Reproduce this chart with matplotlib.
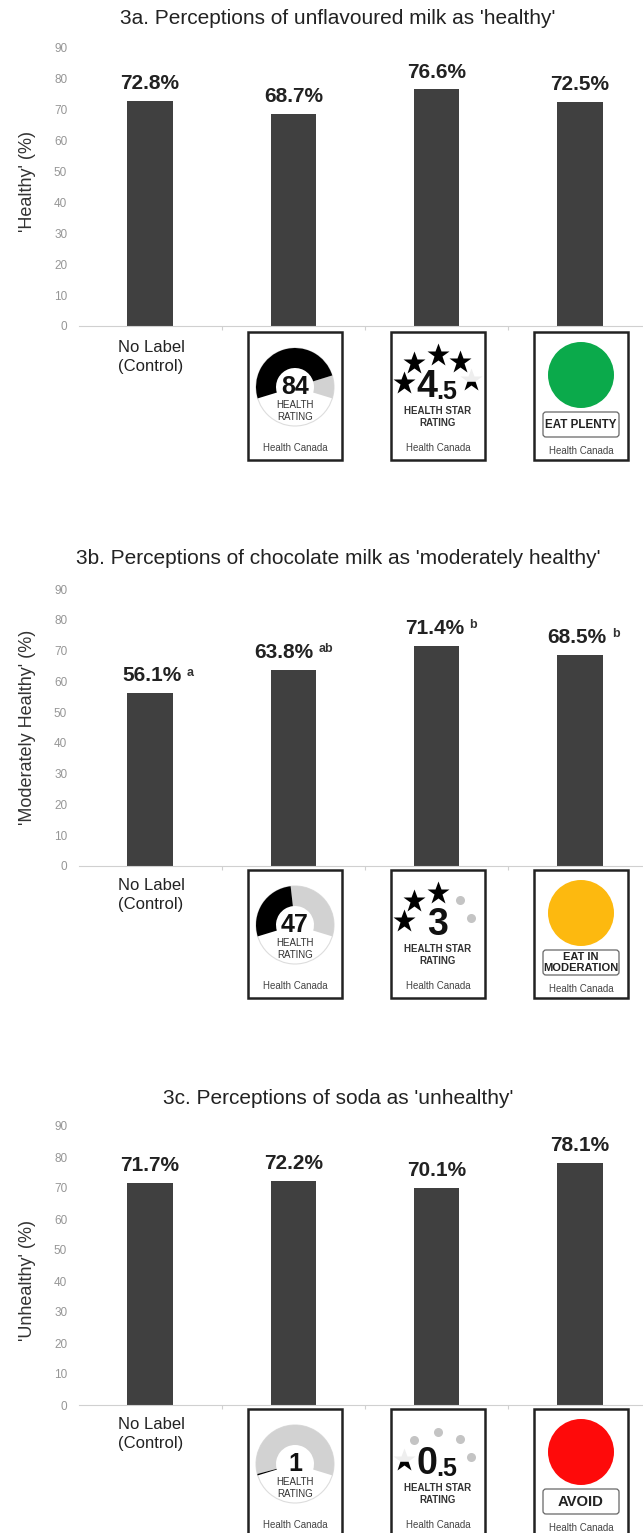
import numpy as np
import matplotlib
matplotlib.use('Agg')
import matplotlib.pyplot as plt
from matplotlib.patches import Wedge, Circle, Rectangle, FancyBboxPatch

plt.rcParams['font.family'] = ['Liberation Sans', 'DejaVu Sans']

W, H = 643, 1533

# ----- Data -----
titles = ["3a. Perceptions of unflavoured milk as 'healthy'",
          "3b. Perceptions of chocolate milk as 'moderately healthy'",
          "3c. Perceptions of soda as 'unhealthy'"]
ylabels = ["'Healthy' (%)", "'Moderately Healthy' (%)", "'Unhealthy' (%)"]
values_a = [72.8, 68.7, 76.6, 72.5]
values_b = [56.1, 63.8, 71.4, 68.5]
values_c = [71.7, 72.2, 70.1, 78.1]
letters_b = ['a', 'ab', 'b', 'b']
y_ticks = [0, 10, 20, 30, 40, 50, 60, 70, 80, 90]
gauge_scores = [84, 47, 1]
star_ratings = ['4.5', '3', '0.5']
light_colors = ['#0BAA4B', '#FDB90F', '#FE0A0A']
light_words = ['EAT PLENTY', 'EAT IN\nMODERATION', 'AVOID']

# ----- Layout in pixels -----
y_zero = [326, 866, 1405]
y_ninety = [48, 589, 1126]
title_y = [18, 558, 1098]
label_mid = [0.518, 0.5, 0.446]
panel_top = [332, 870, 1409]
panel_x = [248, 391, 534]
star_spots = [(13, 51), (23, 31), (47, 23), (69, 30), (80, 48)]

fig = plt.figure(figsize=(W / 100, H / 100), dpi=100)


def draw_chart(i, values, letters=None, shifts=(0, 0, 0, 0)):
    ax = fig.add_axes([79 / W, 1 - y_zero[i] / H, (W - 79) / W, (y_zero[i] - y_ninety[i]) / H])
    ax.bar(range(4), values, width=0.315, color='#404040')
    ax.set_xlim(-0.495, 3.44)
    ax.set_ylim(0, 90)
    ax.set_yticks(y_ticks)
    ax.tick_params(axis='y', length=0, labelsize=8.5, labelcolor='#969696', pad=8.5)
    ax.set_xticks([0.5, 1.5, 2.5])
    ax.set_xticklabels([])
    ax.tick_params(axis='x', length=3, color='#d0d0d0')
    for s in ['top', 'right', 'left']:
        ax.spines[s].set_visible(False)
    ax.spines['bottom'].set_color('#d0d0d0')
    ax.patch.set_alpha(0)
    ax.set_ylabel(ylabels[i], fontsize=13, color='#333333')
    ax.yaxis.set_label_coords(-43 / (W - 79), label_mid[i])
    for k, v in enumerate(values):
        ax.annotate(f'{v}%', (k, v), xytext=(shifts[k], 12.5), textcoords='offset points',
                    ha='center', va='center', fontsize=15, fontweight='bold', color='#222222')
        if letters:
            ax.annotate(letters[k], (k, v), xytext=(shifts[k] + 25, 15), textcoords='offset points',
                        ha='left', va='center', fontsize=9, fontweight='bold', color='#333333')


draw_chart(0, values_a)
draw_chart(1, values_b, letters_b, shifts=(1.5, -7, -1.5, -2))
draw_chart(2, values_c)

# overlay in pixel coordinates for titles and the front-of-pack labels
ov = fig.add_axes([0, 0, 1, 1])
ov.set_xlim(0, W)
ov.set_ylim(H, 0)
ov.axis('off')
ov.patch.set_alpha(0)


def panel_box(x, y, footer_y=116):
    ov.add_patch(Rectangle((x, y), 94, 128, fc='white', ec='#222222', lw=1.8))
    ov.text(x + 47, y + footer_y, 'Health Canada', ha='center', va='center', fontsize=7, color='#444444')


def draw_gauge(x, y, score):
    panel_box(x, y)
    cx, cy = x + 47, y + 55
    start, sweep = -197, 214
    split = start + sweep * score / 100
    ov.add_patch(Circle((cx, cy), 39, fc='white', ec='#dddddd', lw=0.8))
    ov.add_patch(Wedge((cx, cy), 39, split, start + sweep, width=20, fc='#d2d2d2', ec='none'))
    ov.add_patch(Wedge((cx, cy), 39, start, split, width=20, fc='black', ec='none'))
    ov.text(cx, cy, str(score), ha='center', va='center', fontsize=18, fontweight='bold', color='#111111')
    ov.text(cx, cy + 24, 'HEALTH\nRATING', ha='center', va='center', fontsize=7,
            linespacing=1.15, color='#333333')


def draw_stars(x, y, rating):
    panel_box(x, y)
    value = float(rating)
    for n, (dx, dy) in enumerate(star_spots):
        if value >= n + 1:
            ov.plot(x + dx, y + dy, marker='*', ms=17, color='black', mec='none')
        elif value >= n + 0.5:
            ov.plot(x + dx, y + dy, marker='*', ms=17, color='black', mec='none', fillstyle='bottom',
                    markerfacecoloralt='#eeeeee')
        else:
            ov.plot(x + dx, y + dy, marker='o', ms=6.5, color='#c4c4c4', mec='none')
    whole, _, half = rating.partition('.')
    cx = x + 47
    if half:
        ov.text(cx - 1, y + 55, whole, ha='right', va='center', fontsize=27, fontweight='bold', color='#111111')
        ov.text(cx - 2, y + 60, '.' + half, ha='left', va='center', fontsize=18, fontweight='bold', color='#111111')
    else:
        ov.text(cx, y + 55, whole, ha='center', va='center', fontsize=27, fontweight='bold', color='#111111')
    ov.text(cx, y + 85, 'HEALTH STAR\nRATING', ha='center', va='center', fontsize=7,
            linespacing=1.25, fontweight='bold', color='#333333')


def draw_light(x, y, color, words):
    panel_box(x, y, 119)
    ov.add_patch(Circle((x + 47, y + 43), 33, fc=color, ec='none'))
    ov.add_patch(FancyBboxPatch((x + 9, y + 80), 76, 25, boxstyle='round,pad=0,rounding_size=3',
                                fc='white', ec='#666666', lw=0.9))
    size = 10.7 if words == 'AVOID' else 8.4 if '\n' not in words else 8
    ov.text(x + 47, y + 92.5, words, ha='center', va='center', fontsize=size, fontweight='bold',
            linespacing=1.1, color='#222222')


for i in range(3):
    ov.text(338, title_y[i], titles[i], ha='center', va='center', fontsize=15, color='#222222')
    ov.text(151, panel_top[i] + 25, 'No Label\n(Control)', ha='center', va='center', fontsize=12,
            linespacing=1.3, color='#222222')
    draw_gauge(panel_x[0], panel_top[i], gauge_scores[i])
    draw_stars(panel_x[1], panel_top[i], star_ratings[i])
    draw_light(panel_x[2], panel_top[i], light_colors[i], light_words[i])

ov.set_xlim(0, W)
ov.set_ylim(H, 0)

fig.savefig('out.png', dpi=100)
